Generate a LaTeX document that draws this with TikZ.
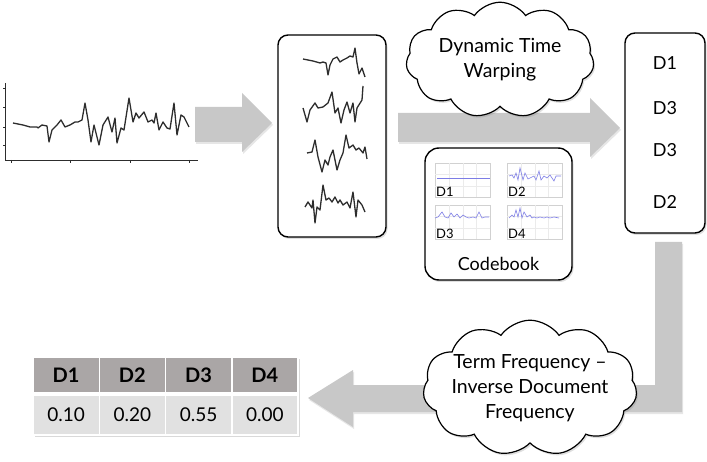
\documentclass[tikz,border=0pt]{standalone}
\usepackage{fontspec}
\setmainfont{Lato}
\usepackage{tikz}
\usetikzlibrary{positioning,shapes.symbols,shadows}

\definecolor{arrowgray}{RGB}{200,200,200}
\definecolor{headgray}{RGB}{170,166,166}
\definecolor{cellgray}{RGB}{225,225,225}
\definecolor{wave}{RGB}{125,125,230}
\definecolor{ink}{RGB}{45,45,45}

\begin{document}
\begin{tikzpicture}[
  x=1pt, y=-1pt,
  box/.style={draw, line width=1.4pt, rounded corners=10pt, fill=white, inner sep=0pt,
    drop shadow={shadow xshift=1.5pt, shadow yshift=-2pt, opacity=0.25}},
  bubble/.style={cloud, draw, line width=1.2pt, fill=white, cloud puffs=11, cloud puff arc=110,
    aspect=1.7, align=center, inner sep=-4pt, font=\fontsize{19.5}{25}\selectfont,
    drop shadow={shadow xshift=1.5pt, shadow yshift=-2pt, opacity=0.25}},
  fatarrow/.style={fill=arrowgray, drop shadow={shadow xshift=1pt, shadow yshift=-2pt, opacity=0.2}},
  word/.style={font=\fontsize{18}{20}\selectfont, inner sep=0pt},
  hcell/.style={draw=white, line width=1.5pt, fill=headgray, minimum width=66.25pt, minimum height=36pt,
    inner sep=0pt, font=\fontsize{20}{22}\selectfont\bfseries},
  vcell/.style={draw=white, line width=1.5pt, fill=cellgray, minimum width=66.25pt, minimum height=40pt,
    inner sep=0pt, font=\fontsize{19}{21}\selectfont},
  axis/.style={draw=ink, line width=0.7pt},
  series/.style={draw=ink, line width=1.3pt, line join=round},
  panel/.style={draw=black!18, line width=0.5pt, fill=white},
  tag/.style={font=\fontsize{13}{13}\selectfont, inner sep=0.5pt, anchor=south west}
]
\useasboundingbox (0,0) rectangle (707,462);

% raw time series
\draw[axis] (5,83) -- (5,160) -- (198,160);
\foreach \ty in {88,107,127,145} \draw[axis] (3,\ty) -- (5,\ty);
\foreach \tx in {11,70,130,189} \draw[axis] (\tx,160) -- (\tx,163);
\draw[series] plot coordinates {(13,123) (23,125) (30,127) (37,127) (38,128) (42,125) (47,126)
  (49,142) (52,130) (57,125) (61,120) (65,127) (70,125) (75,122) (78,122) (82,120) (85,103)
  (88,120) (91,142) (94,125) (99,145) (103,125) (108,117) (112,132) (115,118) (117,143)
  (121,128) (124,130) (129,98) (133,122) (136,113) (139,118) (144,112) (148,122) (152,120)
  (154,123) (156,113) (159,130) (163,122) (167,128) (170,129) (174,103) (177,135) (181,115)
  (184,117) (189,127)};

% fat arrows
\fill[fatarrow] (195,107) -- (242,107) -- (242,93) -- (272,123) -- (242,152) -- (242,142)
  -- (195,142) -- cycle;
\fill[fatarrow] (398,113) -- (590,113) -- (590,98) -- (620,128) -- (590,157) -- (590,142)
  -- (398,142) -- cycle;
\fill[fatarrow] (655,242) -- (682,242) -- (682,412) -- (353,412) -- (353,427) -- (308,398)
  -- (353,370) -- (353,385) -- (655,385) -- cycle;

% segmented series
\node[box, minimum width=108pt, minimum height=202pt] (segs) at (332,136) {};
\draw[series] plot coordinates {(303,59) (313,61) (320,63) (323,62) (326,63) (328,75) (330,65)
  (333,59) (337,57) (340,62) (343,60) (347,58) (350,56) (353,57) (355,48) (357,63) (359,74)
  (362,68) (365,77)};
\draw[series] plot coordinates {(303,108) (307,122) (310,110) (315,103) (318,108) (323,107)
  (328,103) (332,92) (335,113) (338,108) (341,123) (344,110) (347,102) (350,113) (353,103)
  (355,122) (357,108) (362,100) (363,86)};
\draw[series] plot coordinates {(307,153) (312,152) (315,140) (318,157) (322,172) (325,160)
  (328,165) (330,157) (333,150) (337,170) (340,160) (343,153) (346,135) (349,148) (353,145)
  (356,150) (359,148) (363,153) (365,147) (367,159)};
\draw[series] plot coordinates {(305,207) (308,202) (312,208) (313,200) (315,223) (317,207)
  (320,210) (323,185) (326,200) (329,198) (332,202) (335,197) (338,203) (340,200) (343,205)
  (347,202) (350,208) (353,192) (356,217) (358,200) (362,205) (365,212)};

% clouds
\node[bubble, minimum width=188pt, minimum height=112pt] (dtw) at (500,60) {Dynamic Time\\Warping};
\node[bubble, inner sep=-11pt, minimum width=214pt, minimum height=117pt] (tfidf) at (530,388)
  {Term Frequency --\\Inverse Document\\Frequency};

% codebook
\node[box, rounded corners=14pt, minimum width=147pt, minimum height=132pt] (codebook) at (498.5,214) {};
\node[word, above=10pt of codebook.south] (cbname) {Codebook};
\foreach \px/\py/\lab [count=\i] in {435/163/D1, 507/163/D2, 435/205/D3, 507/205/D4} {
  \begin{scope}[shift={(\px,\py)}]
    \draw[panel] (0,0) rectangle (55,34);
    \draw[black!8, line width=0.4pt] (14,0) -- (14,34) (28,0) -- (28,34) (41,0) -- (41,34)
      (0,11) -- (55,11) (0,23) -- (55,23);
    \node[tag] (tag\i) at (0.5,34) {\lab};
  \end{scope}
}
\draw[wave, line width=0.6pt] (437,178) -- (490,178);
\begin{scope}[shift={(507,163)}]
  \draw[wave, line width=0.6pt] plot coordinates {(2,13) (5,12) (7,15) (9,10) (11,17) (13,5) (16,17)
    (18,10) (21,16) (23,15) (27,13) (29,17) (32,8) (34,17) (37,13) (40,15) (43,12) (45,15) (47,18)
    (49,13) (52,13) (54,13)};
\end{scope}
\begin{scope}[shift={(435,205)}]
  \draw[wave, line width=0.6pt] plot coordinates {(0,13) (3,12) (7,7) (10,12) (13,13) (16,8) (19,12)
    (22,9) (25,13) (28,10) (31,12) (34,13) (38,12) (41,13) (44,7) (47,13) (50,12) (54,12)};
\end{scope}
\begin{scope}[shift={(507,205)}]
  \draw[wave, line width=0.6pt] plot coordinates {(2,13) (5,10) (7,12) (9,5) (11,12) (13,3) (15,13)
    (17,7) (20,12) (23,10) (25,13) (27,12) (30,13) (33,12) (37,13) (40,12) (43,13) (47,12) (52,13)};
\end{scope}

% word sequence
\node[box, minimum width=80pt, minimum height=200pt] (words) at (665,133) {};
\node[word] (w1) at (665,63) {D1};
\node[word] (w2) at (665,108) {D3};
\node[word] (w3) at (665,150) {D3};
\node[word] (w4) at (665,202) {D2};

% histogram table
\fill[cellgray, drop shadow={shadow xshift=1.5pt, shadow yshift=-2pt, opacity=0.3}] (33,357) rectangle (298,435);
\foreach \lab/\val [count=\i] in {D1/0.10, D2/0.20, D3/0.55, D4/0.00} {
  \node[hcell] (h\i) at ({33+66.25*(\i-0.5)},375) {\lab};
  \node[vcell] (v\i) at ({33+66.25*(\i-0.5)},415) {\val};
}
\end{tikzpicture}
\end{document}
